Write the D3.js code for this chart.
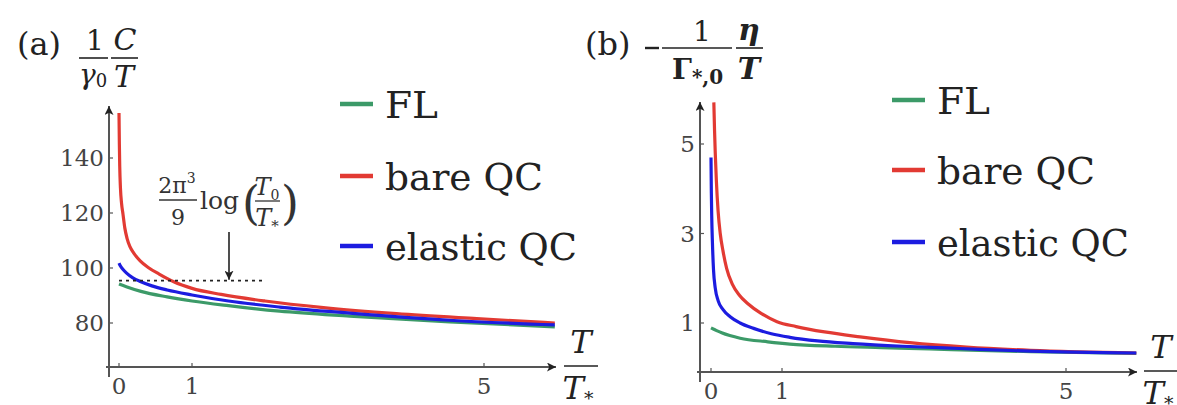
<!DOCTYPE html>
<html><head><meta charset="utf-8">
<script src="https://cdn.jsdelivr.net/npm/d3@7"></script>
</head><body style="margin:0;background:#fff">
<svg id="c" width="1177" height="405" style="display:block"></svg>
<script>
// ---- data ----
const seriesNames = ["FL", "bare QC", "elastic QC"];
const seriesColors = ["#3c9a68", "#e23a33", "#1c1ce0"];
// panel (a): (1/γ0) C/T vs T/T*
const aFL_T   = [0, 0.1, 0.3, 0.66, 1.0, 1.5, 2.2, 3.16, 4.53, 5.97];
const aFL_V   = [94.2, 93.2, 91.5, 89.5, 88, 86.3, 84.3, 82.5, 80.4, 78.6];
const aBare_T = [0, 0.005, 0.01, 0.02, 0.035, 0.055, 0.08, 0.11, 0.15, 0.2, 0.29, 0.4, 0.55, 0.75, 1.0, 1.4, 2.0, 2.8, 3.8, 4.9, 5.97];
const aBare_V = [156.4, 145, 137, 129, 123.5, 119.5, 114.5, 110.8, 107.8, 105.5, 102.6, 100.2, 97.8, 95, 92.6, 90.4, 88, 85.6, 83.4, 81.6, 80];
const aEl_T   = [0, 0.02, 0.05, 0.1, 0.19, 0.3, 0.45, 0.66, 1.0, 1.5, 2.2, 3.16, 4.53, 5.97];
const aEl_V   = [101.8, 100.7, 99.6, 98.2, 96.4, 95, 93.5, 92, 90.2, 88, 85.8, 83.6, 81, 79.3];
const aTicksX = [0, 1, 5];
const aTicksY = [80, 100, 120, 140];
const aRefLevel = 95.4; // (2π³/9) log(T0/T*)
const aRefEnd = 2.0;
// panel (b): -(1/Γ*,0) η/T vs T/T*
const bFL_T   = [0, 0.15, 0.41, 0.8, 1.11, 1.75, 2.4, 3.08, 4.5, 5.99];
const bFL_V   = [0.89, 0.78, 0.66, 0.58, 0.53, 0.48, 0.45, 0.42, 0.36, 0.32];
const bBare_T = [0.04, 0.05, 0.06, 0.075, 0.1, 0.13, 0.17, 0.22, 0.3, 0.4, 0.52, 0.7, 0.93, 1.2, 1.6, 2.1, 2.8, 3.6, 4.5, 5.99];
const bBare_V = [5.93, 5.3, 4.8, 4.2, 3.5, 3.0, 2.6, 2.22, 1.87, 1.62, 1.43, 1.22, 1.03, 0.92, 0.8, 0.69, 0.56, 0.46, 0.39, 0.33];
const bEl_T   = [0, 0.005, 0.01, 0.02, 0.035, 0.06, 0.1, 0.17, 0.27, 0.41, 0.6, 0.85, 1.11, 1.5, 2.0, 2.7, 3.5, 4.5, 5.99];
const bEl_V   = [4.7, 3.9, 3.4, 2.8, 2.2, 1.78, 1.5, 1.3, 1.14, 1.0, 0.88, 0.76, 0.68, 0.6, 0.54, 0.48, 0.43, 0.37, 0.33];
const bTicksX = [0, 1, 5];
const bTicksY = [1, 3, 5];

const FONT = "'DejaVu Serif'";
const legendWidths = [53, 158, 192];
const svg = d3.select("#c");
const defs = svg.append("defs");
defs.append("marker").attr("id","arr").attr("viewBox","0 0 10 10").attr("refX",10).attr("refY",5)
  .attr("markerWidth",9).attr("markerHeight",9).attr("markerUnits","userSpaceOnUse").attr("orient","auto")
  .append("path").attr("d","M0,0L10,5L0,10L2.5,5Z").attr("fill","#222");

const zip = (T,V) => T.map((t,i)=>[t,V[i]]);
function txt(sel, x, y, size, s){
  return sel.append("text").attr("x",x).attr("y",y).attr("font-size",size)
    .style("font-family",FONT).attr("fill","#222").text(s);
}

function panel(cfg){
  const g = svg.append("g");
  const x = d3.scaleLinear().domain([0,5]).range(cfg.xr);
  const y = d3.scaleLinear().domain(cfg.yd).range(cfg.yr);
  const axisCol = "#555";
  g.append("line").attr("x1",cfg.ax-3).attr("x2",cfg.xEnd).attr("y1",cfg.ay).attr("y2",cfg.ay)
    .attr("stroke",axisCol).attr("stroke-width",2).attr("marker-end","url(#arr)");
  g.append("line").attr("x1",cfg.ax).attr("x2",cfg.ax).attr("y1",cfg.ay+10).attr("y2",cfg.yTop)
    .attr("stroke",axisCol).attr("stroke-width",2).attr("marker-end","url(#arr)");
  cfg.tx.forEach(t=>{
    g.append("line").attr("x1",x(t)).attr("x2",x(t)).attr("y1",cfg.ay).attr("y2",cfg.ay-4).attr("stroke",axisCol).attr("stroke-width",1.2);
    txt(g, x(t), cfg.ay+27, 23, String(t)).attr("text-anchor","middle").attr("fill","#444");
  });
  cfg.ty.forEach(t=>{
    g.append("line").attr("x1",cfg.ax).attr("x2",cfg.ax+4).attr("y1",y(t)).attr("y2",y(t)).attr("stroke",axisCol).attr("stroke-width",1.2);
    txt(g, cfg.ax-5, y(t)+8, 23, String(t)).attr("text-anchor","end").attr("fill","#444");
  });
  const line = d3.line().x(d=>x(d[0])).y(d=>y(d[1])).curve(d3.curveMonotoneX);
  cfg.series.forEach((s,i)=>{
    g.append("path").datum(s).attr("d",line).attr("fill","none").attr("stroke",seriesColors[i])
      .attr("stroke-width",3.2).attr("stroke-linecap","butt").attr("stroke-linejoin","round");
  });
  seriesNames.forEach((n,i)=>{
    const ly = cfg.legY[i];
    g.append("line").attr("x1",cfg.legX).attr("x2",cfg.legX+33).attr("y1",ly).attr("y2",ly)
      .attr("stroke",seriesColors[i]).attr("stroke-width",4.5);
    txt(g, cfg.legX+45, ly+14, 38, n).attr("textLength",legendWidths[i]).attr("lengthAdjust","spacingAndGlyphs");
  });
  const lx = cfg.xlabX;
  txt(g, lx, cfg.ay-14, 32, "T").attr("text-anchor","middle").attr("font-style","italic");
  g.append("line").attr("x1",lx-17).attr("x2",lx+17).attr("y1",cfg.ay-1).attr("y2",cfg.ay-1).attr("stroke","#222").attr("stroke-width",1.5);
  const tt = txt(g, lx-3, cfg.ay+32, 32, "").attr("text-anchor","middle").attr("font-style","italic");
  tt.append("tspan").text("T");
  tt.append("tspan").attr("font-size",19).attr("font-style","normal").attr("dy",6).text("*");
  return {x,y,g};
}

// ---- panel (a) ----
const A = panel({xr:[119,484], yd:[80,140], yr:[323,158], ax:109, ay:367, xEnd:556, yTop:106,
  tx:aTicksX, ty:aTicksY, series:[zip(aFL_T,aFL_V), zip(aBare_T,aBare_V), zip(aEl_T,aEl_V)],
  legX:340, legY:[104,176,246], xlabX:581});
A.g.append("line").attr("x1",A.x(0)).attr("x2",A.x(aRefEnd)).attr("y1",A.y(aRefLevel)).attr("y2",A.y(aRefLevel))
  .attr("stroke","#222").attr("stroke-width",1.6).attr("stroke-dasharray","3,4");
A.g.append("line").attr("x1",229).attr("x2",229).attr("y1",232).attr("y2",A.y(aRefLevel)-1)
  .attr("stroke","#222").attr("stroke-width",1.6).attr("marker-end","url(#arr)");
const an = A.g.append("g");
txt(an,177,193,22,"2π").attr("text-anchor","middle").attr("fill","#333").append("tspan").attr("font-size",14).attr("dy",-10).text("3");
an.append("line").attr("x1",159).attr("x2",197).attr("y1",200).attr("y2",200).attr("stroke","#333").attr("stroke-width",1.3);
txt(an,178,225,22,"9").attr("text-anchor","middle").attr("fill","#333");
txt(an,200,209,25,"log").attr("fill","#333");
txt(an,242,219,46,"(").attr("fill","#333");
txt(an,281,219,46,")").attr("fill","#333");
const t0 = txt(an,267,195,24,"").attr("text-anchor","middle").attr("font-style","italic").attr("fill","#333");
t0.append("tspan").text("T"); t0.append("tspan").attr("font-size",14).attr("font-style","normal").attr("dy",5).text("0");
an.append("line").attr("x1",255).attr("x2",280).attr("y1",201).attr("y2",201).attr("stroke","#333").attr("stroke-width",1.3);
const ts = txt(an,267,226,24,"").attr("text-anchor","middle").attr("font-style","italic").attr("fill","#333");
ts.append("tspan").text("T"); ts.append("tspan").attr("font-size",15).attr("font-style","normal").attr("dy",5).text("*");
// panel (a) title
txt(A.g,17,55,32,"(a)");
txt(A.g,95,50,28,"1").attr("text-anchor","middle");
A.g.append("line").attr("x1",79).attr("x2",108).attr("y1",58).attr("y2",58).attr("stroke","#222").attr("stroke-width",1.6);
A.g.append("line").attr("x1",111).attr("x2",138).attr("y1",58).attr("y2",58).attr("stroke","#222").attr("stroke-width",1.6);
txt(A.g,125,50,30,"C").attr("text-anchor","middle").attr("font-style","italic");
const gm = txt(A.g,93,84,28,"").attr("text-anchor","middle").attr("font-style","italic");
gm.append("tspan").text("γ"); gm.append("tspan").attr("font-size",18).attr("font-style","normal").attr("dy",3).text("0");
txt(A.g,124,87,30,"T").attr("text-anchor","middle").attr("font-style","italic");

// ---- panel (b) ----
const B = panel({xr:[711,1066], yd:[1,5], yr:[323,144], ax:700, ay:372, xEnd:1137, yTop:102,
  tx:bTicksX, ty:bTicksY, series:[zip(bFL_T,bFL_V), zip(bBare_T,bBare_V), zip(bEl_T,bEl_V)],
  legX:892, legY:[100,170,242], xlabX:1161});
txt(B.g,585,55,32,"(b)");
B.g.append("line").attr("x1",645).attr("x2",659).attr("y1",48).attr("y2",48).attr("stroke","#222").attr("stroke-width",2.4);
txt(B.g,702,41,28,"1").attr("text-anchor","middle");
B.g.append("line").attr("x1",662).attr("x2",732).attr("y1",48).attr("y2",48).attr("stroke","#222").attr("stroke-width",1.6);
const gam = txt(B.g,672,79,28,"").attr("font-weight","bold");
gam.append("tspan").text("Γ"); gam.append("tspan").attr("font-size",20).attr("dy",5).text("*,0");
B.g.append("line").attr("x1",736).attr("x2",763).attr("y1",48).attr("y2",48).attr("stroke","#222").attr("stroke-width",1.6);
txt(B.g,749,40,30,"η").attr("text-anchor","middle").attr("font-style","italic").attr("font-weight","bold");
txt(B.g,749,79,30,"T").attr("text-anchor","middle").attr("font-style","italic").attr("font-weight","bold");
</script></body></html>
